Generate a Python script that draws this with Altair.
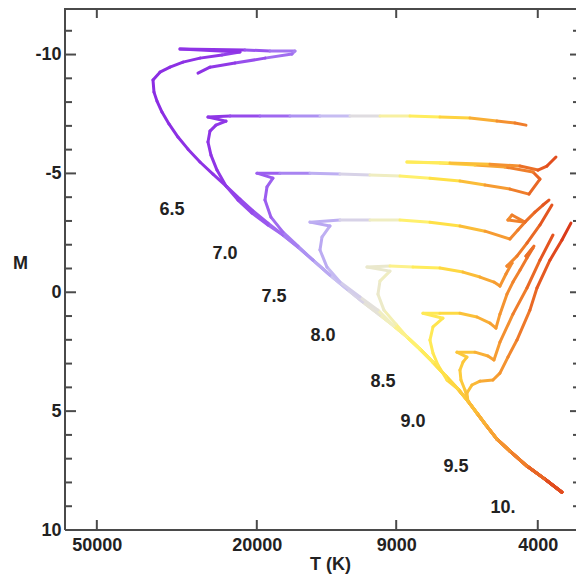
import math
import altair as alt
import pandas as pd

# ---- shared lower main sequence (T in K, absolute magnitude M), cool -> hot
ms_T = [3483, 3839, 4256, 4691, 5054, 5382, 5667, 5967, 6318, 6768, 7291, 7855, 8462,
        9116, 9877, 10887, 11932, 13151, 14497, 15797, 17215, 18759, 20442, 22022,
        23725, 25706, 27692, 29662, 31410, 33072, 34426, 35425, 36040]
ms_M = [8.41, 7.86, 7.31, 6.68, 6.18, 5.59, 5.08, 4.58, 4.07, 3.53, 2.94, 2.39, 1.88,
        1.42, 0.96, 0.41, -0.13, -0.72, -1.35, -1.90, -2.41, -2.91, -3.42, -3.92,
        -4.43, -4.97, -5.48, -6.02, -6.53, -7.08, -7.58, -8.04, -8.42]

# ---- isochrone names (log age) and how many main-sequence points each follows
iso_names = ["6.5", "7.0", "7.5", "8.0", "8.5", "9.0", "9.5", "10."]
iso_ms_count = [33, 21, 19, 14, 13, 9, 8, 8]

# ---- the part of each isochrone past its main sequence
t65_T = [36247, 34822, 32883, 30524, 27692, 24414, 22022, 31052, 21400, 18546, 16071,
         16350, 19084, 22662, 26151, 28011]
t65_M = [-8.93, -9.26, -9.47, -9.68, -9.85, -9.98, -10.11, -10.23, -10.19, -10.15, -10.15,
         -10.02, -9.85, -9.64, -9.47, -9.22]

t70_T = [18759, 20559, 22276, 23861, 25123, 26002, 26452, 26151, 25267, 23861, 26452,
         23321, 19639, 16538, 13927, 11728, 9877, 8317, 7005, 5899, 5054, 4559, 4280]
t70_M = [-2.83, -3.33, -3.88, -4.47, -5.14, -5.77, -6.32, -6.78, -7.03, -7.20, -7.37,
         -7.41, -7.41, -7.41, -7.41, -7.41, -7.41, -7.41, -7.37, -7.33, -7.20, -7.12, -7.03]

t75_T = [15797, 17215, 18440, 19084, 18867, 18230, 19979, 17513, 14748, 12419, 10459,
         8808, 7418, 6247, 5413, 4691, 4207, 3950, 4112, 4827, 5732, 7005, 8462, 6615,
         5260, 4430, 3996, 3795, 3604]
t75_M = [-1.94, -2.53, -3.16, -3.88, -4.43, -4.80, -5.01, -5.01, -5.01, -4.97, -4.93,
         -4.89, -4.80, -4.68, -4.51, -4.34, -4.13, -4.76, -5.06, -5.27, -5.35, -5.44, -5.48,
         -5.44, -5.39, -5.31, -5.14, -5.31, -5.69]

t80_T = [9991, 11075, 12419, 13379, 13927, 13768, 13151, 14748, 12419, 10459, 8808, 7418,
         6247, 5413, 4691, 4481, 4305, 4745, 4637, 4305, 4065, 3883, 3752]
t80_M = [0.75, 0.20, -0.43, -1.06, -1.78, -2.32, -2.79, -2.95, -3.04, -3.04, -3.04, -2.95,
         -2.79, -2.57, -2.24, -2.62, -2.95, -3.04, -3.25, -2.95, -3.37, -3.67, -3.88]

t85_T = [9012, 9654, 9991, 9877, 9327, 10640, 9327, 8176, 7005, 6140, 5570, 5141, 4968,
         4799, 4637, 4772, 4507, 4256, 3950, 3688]
t85_M = [1.34, 0.75, 0.08, -0.47, -0.89, -1.06, -1.10, -1.06, -1.02, -0.85, -0.64, -0.43,
         -0.26, -0.77, -1.23, -1.10, -1.52, -2.07, -2.83, -3.67]

t90_T = [6729, 7085, 7291, 7418, 7291, 6885, 7721, 7005, 6247, 5667, 5260, 5083, 4968,
         4772, 4611, 4430, 4256, 4112, 4280, 4089]
t90_M = [3.69, 3.06, 2.56, 2.01, 1.46, 1.09, 0.88, 0.88, 0.88, 1.04, 1.30, 1.51, 0.92,
         0.08, -0.43, -0.93, -1.44, -1.86, -1.52, -1.94]

t95_T = [6070, 6211, 6247, 6140, 6001, 6355, 5732, 5321, 5141, 4968, 4611, 4256, 3950, 3667]
t95_M = [4.11, 3.69, 3.27, 2.94, 2.73, 2.52, 2.52, 2.68, 2.85, 2.10, 0.92, -0.18, -1.35, -2.41]

t100_T = [6001, 5832, 5570, 5171, 4968, 4745, 4507, 4184, 4019, 3731, 3483, 3308]
t100_M = [4.24, 3.90, 3.74, 3.69, 3.40, 2.73, 2.01, 0.75, -0.18, -1.35, -2.20, -2.91]

# ---- isochrone labels
label_T = [32509, 23998, 18126, 13690, 9709, 8176, 6391, 4883]
label_M = [-3.46, -1.61, 0.20, 1.84, 3.78, 5.46, 7.35, 9.08]

# ---- axes
x_ticks = [50000, 20000, 9000, 4000]
y_major = [-10, -5, 0, 5, 10]
y_minor = [-11, -9, -8, -7, -6, -4, -3, -2, -1, 1, 2, 3, 4, 6, 7, 8, 9]

# ---- colour by temperature (log10 T)
c_dom = [3.52, 3.58, 3.64, 3.70, 3.77, 3.83, 3.89, 3.93, 3.98, 4.03, 4.10, 4.18, 4.28, 4.40, 4.60]
c_rng = ["#d93418", "#e45520", "#ee7a2a", "#f69a32", "#fbbf38", "#ffdf45", "#ffef60",
         "#fff27c", "#f0eec0", "#e0dde0", "#c8c0f2", "#ad92f2", "#9b5bef", "#8f35e6", "#8a2be2"]

tails_T = [t65_T, t70_T, t75_T, t80_T, t85_T, t90_T, t95_T, t100_T]
tails_M = [t65_M, t70_M, t75_M, t80_M, t85_M, t90_M, t95_M, t100_M]

rows = []
for name, n, tT, tM in zip(iso_names, iso_ms_count, tails_T, tails_M):
    Ts = ms_T[:n] + tT
    Ms = ms_M[:n] + tM
    for i in range(len(Ts) - 1):
        rows.append({"iso": name, "T": Ts[i], "M": Ms[i], "T2": Ts[i + 1], "M2": Ms[i + 1],
                     "c": (math.log10(Ts[i]) + math.log10(Ts[i + 1])) / 2})
seg = pd.DataFrame(rows)

FONT = "Liberation Sans"
INK = "#222222"
FRAME = "#4a4a4a"
W, H = 511, 522
FS = 18

xs = alt.Scale(type="log", domain=[3000, 60000], range=[523, 0], nice=False)
ys = alt.Scale(type="linear", domain=[-12, 10], range=[-1, 522], nice=False, zero=False)

x_axis = alt.Axis(values=x_ticks, labelExpr="'' + datum.value", domain=False, ticks=False,
                  grid=False, labelFont=FONT, labelFontSize=FS,
                  labelFontWeight="bold", labelColor=INK, labelPadding=6, labelFlush=False,
                  labelOverlap=False, title="T (K)", titleFont=FONT, titleFontSize=FS,
                  titleFontWeight="bold", titleColor=INK, titleX=265, titleY=34,
                  titleAlign="center", titleBaseline="middle")
y_axis = alt.Axis(values=y_major, labelExpr="'' + datum.value", domain=False, ticks=False,
                  grid=False, labelFont=FONT, labelFontSize=FS,
                  labelFontWeight="bold", labelColor=INK, labelPadding=4, labelFlush=False,
                  labelOverlap=False, title="M", titleFont=FONT, titleFontSize=FS,
                  titleFontWeight="bold", titleColor=INK, titleAngle=0, titleX=-45,
                  titleY=255, titleAlign="center", titleBaseline="middle")

lines = alt.Chart(seg).mark_rule(strokeWidth=3, strokeCap="round").encode(
    x=alt.X("T:Q", scale=xs, axis=x_axis),
    y=alt.Y("M:Q", scale=ys, axis=y_axis),
    x2="T2:Q",
    y2="M2:Q",
    color=alt.Color("c:Q", scale=alt.Scale(domain=c_dom, range=c_rng, interpolate="rgb",
                                            clamp=True), legend=None),
)

lab_df = pd.DataFrame({"T": label_T, "M": label_M, "txt": iso_names})
labels = alt.Chart(lab_df).mark_text(font=FONT, fontSize=FS, fontWeight="bold", color=INK,
                                     align="center", baseline="middle").encode(
    x=alt.X("T:Q", scale=xs, axis=x_axis),
    y=alt.Y("M:Q", scale=ys, axis=y_axis),
    text="txt:N",
)

one = pd.DataFrame({"a": [0]})
frame_left = alt.Chart(one).mark_rule(color=FRAME, strokeWidth=2).encode(
    x=alt.X(datum=60000, scale=xs, axis=x_axis),
    y=alt.Y(datum=-12, scale=ys, axis=y_axis),
    y2=alt.Y2(datum=10),
)
frame_bottom = alt.Chart(one).mark_rule(color=FRAME, strokeWidth=2).encode(
    x=alt.X(datum=60000, scale=xs, axis=x_axis),
    x2=alt.X2(datum=3000),
    y=alt.Y(datum=10, scale=ys, axis=y_axis),
)
frame_top = alt.Chart(one).mark_rule(color=FRAME, strokeWidth=2).encode(
    x=alt.X(datum=60000, scale=xs, axis=x_axis),
    x2=alt.X2(datum=3000),
    y=alt.value(1),
)

ymaj = pd.DataFrame({"M": y_major})
ymin = pd.DataFrame({"M": y_minor})
xt = pd.DataFrame({"T": x_ticks})


def yticks(df, x0, x1):
    return alt.Chart(df).mark_rule(color=FRAME, strokeWidth=2).encode(
        y=alt.Y("M:Q", scale=ys, axis=y_axis), x=alt.value(x0), x2=alt.value(x1))


def xticks(y0, y1):
    return alt.Chart(xt).mark_rule(color=FRAME, strokeWidth=2).encode(
        x=alt.X("T:Q", scale=xs, axis=x_axis), y=alt.value(y0), y2=alt.value(y1))


chart = alt.layer(
    lines, labels,
    frame_left, frame_bottom, frame_top,
    yticks(ymaj, 0, 11), yticks(ymin, 0, 7),
    yticks(ymaj, W, W - 6), yticks(ymin, W, W - 3),
    xticks(0, 10), xticks(522, 512),
).properties(
    width=W, height=H,
    autosize=alt.AutoSizeParams(type="none"),
    padding={"left": 57, "top": 0, "right": 0, "bottom": 46},
).configure_view(strokeWidth=0).configure(background="white")

chart.save("out.html", embed_options={"renderer": "svg", "actions": False})
